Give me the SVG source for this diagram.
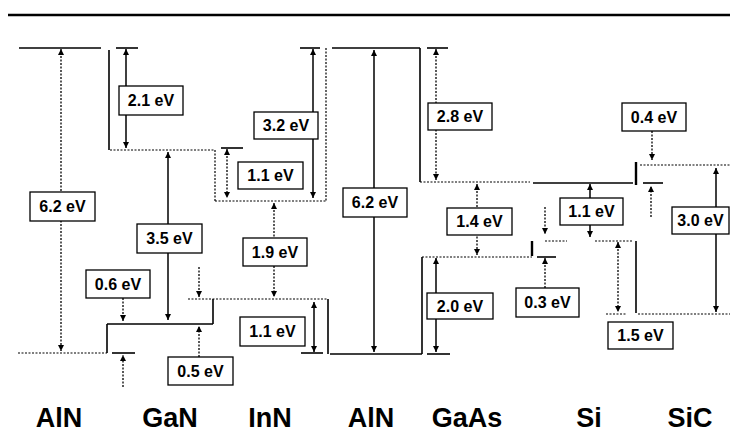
<svg xmlns="http://www.w3.org/2000/svg" width="730" height="434" viewBox="0 0 730 434">
<style>
.lv{stroke:#000;stroke-width:1.6;fill:none}
.tk{stroke:#000;stroke-width:2.4;fill:none}
.dl{stroke:#000;stroke-width:1.2;stroke-dasharray:2 1.5;fill:none}
.a{stroke:#000;stroke-width:1.5;fill:none}
.ad{stroke:#000;stroke-width:1.3;stroke-dasharray:2 1.5;fill:none}
.b2{marker-start:url(#ah);marker-end:url(#ah)}
.be{marker-end:url(#ah)}
.box rect{fill:#fff;stroke:#000;stroke-width:1.3}
.box text{font-family:"Liberation Sans",Arial,sans-serif;font-size:16px;font-weight:bold;text-anchor:middle;fill:#000}
.mat{font-family:"Liberation Sans",Arial,sans-serif;font-size:27px;font-weight:bold;text-anchor:middle;fill:#000}
</style>
<defs>
<marker id="ah" viewBox="0 0 10 10" refX="10" refY="5" markerWidth="7" markerHeight="6" markerUnits="userSpaceOnUse" orient="auto-start-reverse">
<path d="M0,0 L10,5 L0,10 z" fill="#000"/>
</marker>
</defs>
<rect width="730" height="434" fill="#fff"/>
<line x1="8" y1="15" x2="730" y2="15" stroke="#000" stroke-width="2.6"/>

<g id="band-lines">
<!-- AlN 1 -->
<line class="lv" x1="19" y1="48" x2="101" y2="48"/>
<line class="lv" x1="109" y1="50" x2="109" y2="150"/>
<line class="dl" x1="18" y1="353" x2="107" y2="353"/>
<line class="lv" x1="107" y1="324" x2="107" y2="353"/>
<!-- GaN -->
<line class="lv" x1="116" y1="48" x2="138" y2="48"/>
<line class="dl" x1="110" y1="150" x2="215" y2="150"/>
<line class="dl" x1="215" y1="150" x2="215" y2="201"/>
<line class="lv" x1="107" y1="324" x2="213" y2="324"/>
<line class="lv" x1="213" y1="299" x2="213" y2="324"/>
<line class="lv" x1="112" y1="353" x2="135" y2="353"/>
<!-- InN -->
<line class="lv" x1="300" y1="48" x2="320" y2="48"/>
<line class="dl" x1="326" y1="48" x2="326" y2="201"/>
<line class="dl" x1="215" y1="201" x2="327" y2="201"/>
<line class="lv" x1="221" y1="148" x2="243" y2="148"/>
<line class="dl" x1="188" y1="299" x2="328" y2="299"/>
<line class="lv" x1="328" y1="299" x2="328" y2="354"/>
<line class="lv" x1="301" y1="353" x2="323" y2="353"/>
<!-- AlN 2 -->
<line class="lv" x1="332" y1="48" x2="420" y2="48"/>
<line class="lv" x1="420" y1="48" x2="420" y2="182"/>
<line class="lv" x1="330" y1="354" x2="422" y2="354"/>
<line class="lv" x1="422" y1="257" x2="422" y2="354"/>
<!-- GaAs -->
<line class="lv" x1="427" y1="48" x2="448" y2="48"/>
<line class="dl" x1="420" y1="182" x2="530" y2="182"/>
<line class="dl" x1="422" y1="257" x2="532" y2="257"/>
<line class="lv" x1="427" y1="354" x2="450" y2="354"/>
<!-- Si -->
<line class="lv" x1="533" y1="183" x2="633" y2="183"/>
<line class="tk" x1="636" y1="162" x2="636" y2="185"/>
<line class="lv" x1="643" y1="183" x2="663" y2="183"/>
<line class="dl" x1="545" y1="241" x2="567" y2="241"/>
<line class="dl" x1="595" y1="241" x2="632" y2="241"/>
<line class="tk" x1="532" y1="241" x2="532" y2="256"/>
<line class="lv" x1="537" y1="257" x2="556" y2="257"/>
<line class="lv" x1="636" y1="241" x2="636" y2="313"/>
<line class="dl" x1="606" y1="314" x2="627" y2="314"/>
<!-- SiC -->
<line class="dl" x1="640" y1="165" x2="730" y2="165"/>
<line class="dl" x1="638" y1="314" x2="730" y2="314"/>
</g>

<g id="connectors">
<line class="ad b2" x1="61" y1="49" x2="61" y2="351"/>
<line class="a b2" x1="126" y1="49" x2="126" y2="148"/>
<line class="a b2" x1="168" y1="152" x2="168" y2="320"/>
<line class="ad be" x1="123" y1="298" x2="123" y2="321"/>
<line class="ad be" x1="123" y1="387" x2="123" y2="355"/>
<line class="ad be" x1="199" y1="357" x2="199" y2="326"/>
<line class="ad be" x1="199" y1="267" x2="199" y2="297"/>
<line class="a b2" x1="313" y1="49" x2="313" y2="198"/>
<line class="ad b2" x1="227" y1="149" x2="227" y2="198"/>
<line class="ad b2" x1="274" y1="203" x2="274" y2="297"/>
<line class="a b2" x1="314" y1="302" x2="314" y2="352"/>
<line class="a b2" x1="374" y1="50" x2="374" y2="352"/>
<line class="ad b2" x1="436" y1="49" x2="436" y2="180"/>
<line class="ad b2" x1="477" y1="184" x2="477" y2="255"/>
<line class="a b2" x1="436" y1="258" x2="436" y2="352"/>
<line class="a b2" x1="590" y1="184" x2="590" y2="237"/>
<line class="ad be" x1="545" y1="288" x2="545" y2="258"/>
<line class="ad be" x1="545" y1="207" x2="545" y2="234"/>
<line class="ad b2" x1="618" y1="242" x2="618" y2="312"/>
<line class="a b2" x1="716" y1="168" x2="716" y2="312"/>
<line class="ad be" x1="652" y1="131" x2="652" y2="160"/>
<line class="ad be" x1="651" y1="217" x2="651" y2="186"/>
</g>

<g id="lbl-62a" class="box"><rect x="30" y="192" width="65" height="29"/><text x="62.5" y="212">6.2 eV</text></g>
<g id="lbl-21" class="box"><rect x="119" y="86" width="64" height="29"/><text x="151" y="106">2.1 eV</text></g>
<g id="lbl-35" class="box"><rect x="137" y="224" width="65" height="29"/><text x="169.5" y="244">3.5 eV</text></g>
<g id="lbl-06" class="box"><rect x="86" y="270" width="64" height="28"/><text x="118" y="290">0.6 eV</text></g>
<g id="lbl-05" class="box"><rect x="168" y="357" width="65" height="28"/><text x="200.5" y="377">0.5 eV</text></g>
<g id="lbl-32" class="box"><rect x="254" y="112" width="64" height="27"/><text x="286" y="131">3.2 eV</text></g>
<g id="lbl-11a" class="box"><rect x="238" y="162" width="65" height="27"/><text x="270.5" y="181">1.1 eV</text></g>
<g id="lbl-19" class="box"><rect x="243" y="238" width="64" height="28"/><text x="275" y="258">1.9 eV</text></g>
<g id="lbl-11b" class="box"><rect x="240" y="317" width="65" height="29"/><text x="272.5" y="337">1.1 eV</text></g>
<g id="lbl-62b" class="box"><rect x="343" y="188" width="64" height="29"/><text x="375" y="208">6.2 eV</text></g>
<g id="lbl-28" class="box"><rect x="428" y="103" width="64" height="27"/><text x="460" y="122">2.8 eV</text></g>
<g id="lbl-14" class="box"><rect x="447" y="208" width="65" height="27"/><text x="479.5" y="227">1.4 eV</text></g>
<g id="lbl-20" class="box"><rect x="427" y="293" width="66" height="26"/><text x="460" y="312">2.0 eV</text></g>
<g id="lbl-11c" class="box"><rect x="560" y="198" width="63" height="27"/><text x="591.5" y="217">1.1 eV</text></g>
<g id="lbl-03" class="box"><rect x="516" y="288" width="63" height="29"/><text x="547.5" y="308">0.3 eV</text></g>
<g id="lbl-15" class="box"><rect x="608" y="322" width="65" height="27"/><text x="640.5" y="341">1.5 eV</text></g>
<g id="lbl-04" class="box"><rect x="622" y="103" width="64" height="28"/><text x="654" y="123">0.4 eV</text></g>
<g id="lbl-30" class="box"><rect x="672" y="207" width="57" height="27"/><text x="700.5" y="226">3.0 eV</text></g>

<g id="materials">
<text class="mat" x="59" y="427">AlN</text>
<text class="mat" x="170" y="427">GaN</text>
<text class="mat" x="270" y="427">InN</text>
<text class="mat" x="371" y="427">AlN</text>
<text class="mat" x="467" y="427">GaAs</text>
<text class="mat" x="589" y="427">Si</text>
<text class="mat" x="690" y="427">SiC</text>
</g>
</svg>
